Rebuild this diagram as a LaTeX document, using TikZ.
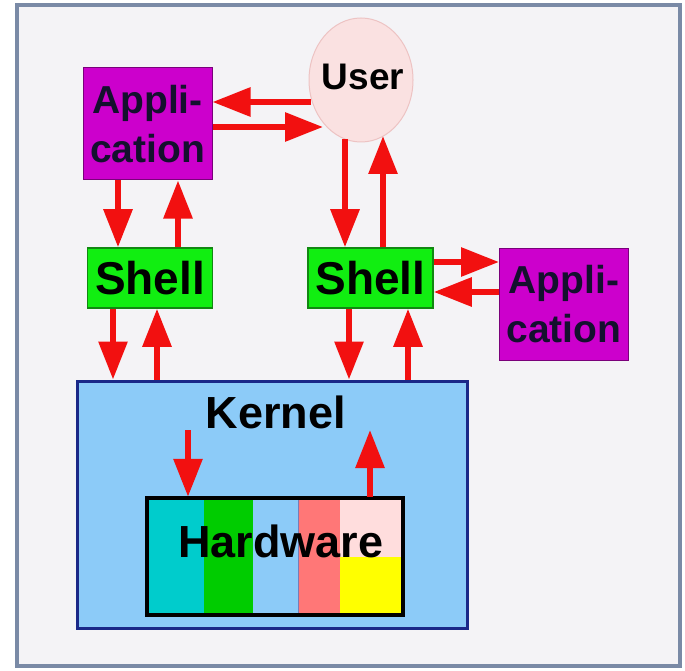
\documentclass[tikz,border=0pt]{standalone}
\usepackage{fontspec}
\setmainfont{Liberation Sans}
\usetikzlibrary{arrows.meta,shapes.geometric,calc}
\definecolor{framefill}{HTML}{F4F3F6}
\definecolor{frameline}{HTML}{7A8AA6}
\definecolor{userfill}{HTML}{FAE1E1}
\definecolor{userline}{HTML}{EDC3C3}
\definecolor{magfill}{HTML}{CC00CC}
\definecolor{magline}{HTML}{7A007A}
\definecolor{shellfill}{HTML}{11EE11}
\definecolor{shellline}{HTML}{118811}
\definecolor{kernfill}{HTML}{8CCBF8}
\definecolor{kernline}{HTML}{1A2888}
\definecolor{arred}{HTML}{F21010}
\definecolor{hwcyan}{HTML}{00CCCC}
\definecolor{hwgreen}{HTML}{00CC00}
\definecolor{hwsalmon}{HTML}{FF7777}
\definecolor{hwpale}{HTML}{FFDDDD}
\definecolor{hwyellow}{HTML}{FFFF00}
\definecolor{txtnavy}{HTML}{14102E}
\tikzset{
  arr/.style={draw=arred, line width=6pt, -{Triangle[length=38pt,width=28pt]}},
  appbox/.style={rectangle, fill=magfill, draw=magline, line width=1pt,
    minimum width=129pt, minimum height=112pt, align=center, inner sep=0pt,
    text=txtnavy, font=\fontsize{39}{49}\selectfont\bfseries},
  shellbox/.style={rectangle, fill=shellfill, draw=shellline, line width=1.5pt,
    minimum width=125pt, minimum height=60pt, inner sep=0pt,
    font=\fontsize{46}{48}\selectfont\bfseries},
}
\begin{document}
\begin{tikzpicture}[x=1pt,y=-1pt]
\useasboundingbox (0,0) rectangle (685,671);
\fill[white] (0,0) rectangle (685,671);
\draw[frameline, fill=framefill, line width=4pt] (17,5) rectangle (680,666);

% kernel
\node[rectangle, fill=kernfill, draw=kernline, line width=3pt,
  minimum width=390pt, minimum height=247pt, inner sep=0pt] (kernel) at (272,504.5) {};
\node[font=\fontsize{45}{47}\selectfont\bfseries] (klabel) at (276,412) {Kernel};

% hardware
\node[rectangle, minimum width=256pt, minimum height=117pt,
  inner sep=0pt] (hw) at (275,556.5) {};
\fill[hwcyan] (147,498) rectangle (204,615);
\fill[hwgreen] (204,498) rectangle (253,615);
\fill[kernfill] (253,498) rectangle (298,615);
\fill[hwsalmon] (298,498) rectangle (340,615);
\fill[hwpale] (340,498) rectangle (403,557);
\fill[hwyellow] (340,557) rectangle (403,615);
\draw[kernline!60, line width=1pt] (298,498) -- (298,615);
\draw[black, line width=4.5pt] (hw.north west) rectangle (hw.south east);
\node[font=\fontsize{45}{47}\selectfont\bfseries] (hwlabel) at (281,541) {Hardware};

% user
\node[ellipse, fill=userfill, draw=userline, line width=1pt, minimum width=104pt,
  minimum height=124pt, inner sep=0pt] (user) at (361,80) {};
\node[font=\fontsize{37}{40}\selectfont\bfseries] (ulabel) at (363,77) {User};

% applications and shells
\node[appbox] (app1) at (147.5,124) {Appli-\\cation};
\node[appbox] (app2) at (564,304) {Appli-\\cation};
\node[shellbox] (shell1) at (150,278) {Shell};
\node[shellbox] (shell2) at (370.5,278) {Shell};

\coordinate (kd) at (188,430);
\coordinate (ku) at (370,430);

% arrows user <-> app1
\draw[arr] ([shift={(-50,22)}]user.center) -- ([shift={(0,-22)}]app1.east);
\draw[arr] ([shift={(0,3)}]app1.east) -- ([shift={(-38,47)}]user.center);
% app1 <-> shell1
\draw[arr] ([shift={(-29.5,0)}]app1.south) -- ([shift={(-32,0)}]shell1.north);
\draw[arr] ([shift={(28,0)}]shell1.north) -- ([shift={(30.5,0)}]app1.south);
% user <-> shell2
\draw[arr] ([shift={(-16,59)}]user.center) -- ([shift={(-25.5,0)}]shell2.north);
\draw[arr] ([shift={(12.5,0)}]shell2.north) -- ([shift={(22,56)}]user.center);
% shell2 <-> app2
\draw[arr] ([shift={(0,-16)}]shell2.east) -- ([shift={(0,-42)}]app2.west);
\draw[arr] ([shift={(0,-12)}]app2.west) -- ([shift={(0,14)}]shell2.east);
% shells <-> kernel
\draw[arr] ([shift={(-37,0)}]shell1.south) -- ([shift={(-159,0)}]kernel.north);
\draw[arr] ([shift={(-115,0)}]kernel.north) -- ([shift={(7,0)}]shell1.south);
\draw[arr] ([shift={(-21.5,0)}]shell2.south) -- ([shift={(77,0)}]kernel.north);
\draw[arr] ([shift={(136,0)}]kernel.north) -- ([shift={(37.5,0)}]shell2.south);
% kernel <-> hardware
\draw[arr] (kd) -- ([shift={(-87,-1)}]hw.north);
\draw[arr] ([shift={(95,-1)}]hw.north) -- (ku);
\end{tikzpicture}
\end{document}
